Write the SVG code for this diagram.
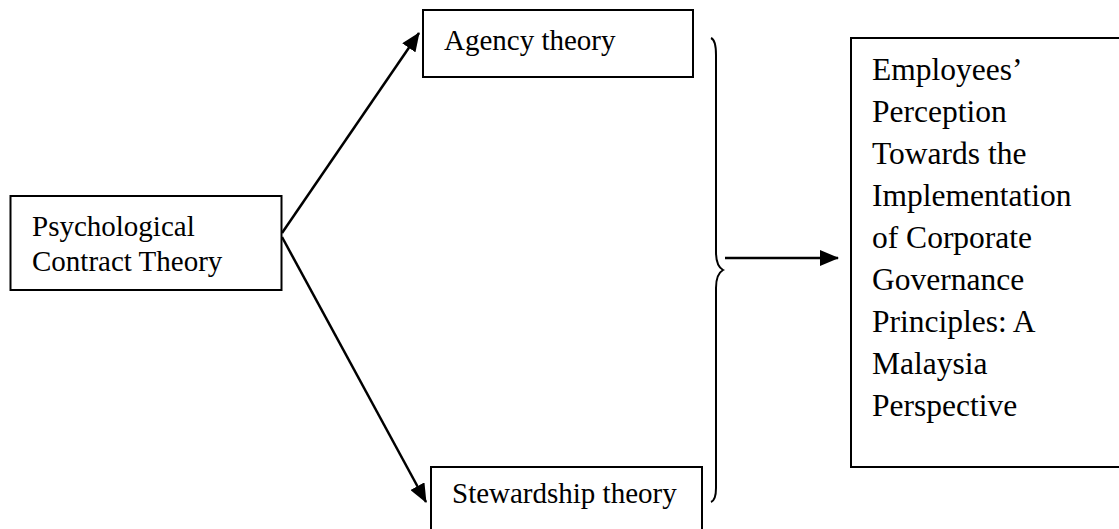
<svg xmlns="http://www.w3.org/2000/svg" width="1119" height="529" viewBox="0 0 1119 529">
  <style>
    .box { fill: #ffffff; stroke: #000000; stroke-width: 2; }
    .label { font-family: "Liberation Serif", "Times New Roman", serif; fill: #000000; }
    .small { font-size: 29px; }
    .large { font-size: 31.5px; }
    .link { stroke: #000000; stroke-width: 2.5; fill: none; }
    .brace { stroke: #000000; stroke-width: 2; fill: none; }
  </style>
  <defs>
    <marker id="arrowhead" markerWidth="19" markerHeight="16" refX="18" refY="8" orient="auto" markerUnits="userSpaceOnUse">
      <path d="M0,0 L19,8 L0,16 Z" fill="#000000"/>
    </marker>
  </defs>
  <rect width="1119" height="529" fill="#ffffff"/>

  <g id="connectors">
    <line class="link" x1="282" y1="233" x2="419" y2="33" marker-end="url(#arrowhead)"/>
    <line class="link" x1="282" y1="237" x2="426" y2="502" marker-end="url(#arrowhead)"/>
    <path class="brace" d="M711,38 Q716,40 716,55 L716,252 Q716,266 723,270 Q716,274 716,288 L716,488 Q716,500 711,502"/>
    <line class="link" x1="725" y1="258" x2="838" y2="258" marker-end="url(#arrowhead)"/>
  </g>

  <g id="node-psychological">
    <rect class="box" x="10.5" y="196" width="271" height="94"/>
    <text class="label small" x="32" y="236">Psychological</text>
    <text class="label small" x="32" y="271">Contract Theory</text>
  </g>

  <g id="node-agency">
    <rect class="box" x="423" y="10" width="270" height="67"/>
    <text class="label small" x="444" y="50">Agency theory</text>
  </g>

  <g id="node-stewardship">
    <rect class="box" x="431" y="467" width="271" height="80"/>
    <text class="label small" x="452" y="503">Stewardship theory</text>
  </g>

  <g id="node-outcome">
    <rect class="box" x="851" y="38" width="290" height="429"/>
    <text class="label large" x="872" y="80">Employees’</text>
    <text class="label large" x="872" y="122">Perception</text>
    <text class="label large" x="872" y="164">Towards the</text>
    <text class="label large" x="872" y="206">Implementation</text>
    <text class="label large" x="872" y="248">of Corporate</text>
    <text class="label large" x="872" y="290">Governance</text>
    <text class="label large" x="872" y="332">Principles: A</text>
    <text class="label large" x="872" y="374">Malaysia</text>
    <text class="label large" x="872" y="416">Perspective</text>
  </g>
</svg>
